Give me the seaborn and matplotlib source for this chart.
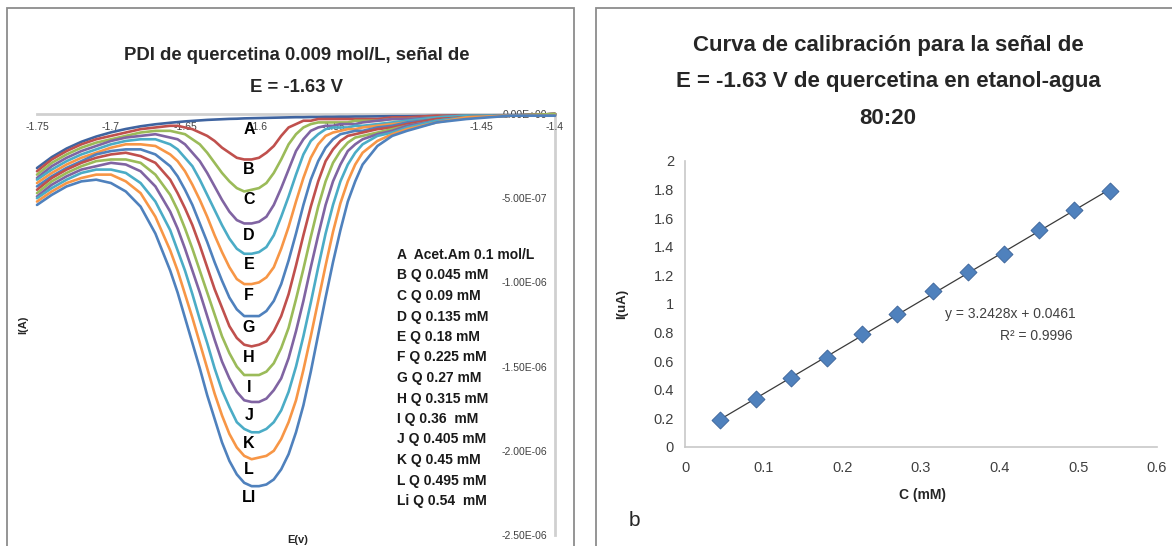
import numpy as np
import pandas as pd
import matplotlib
matplotlib.use("Agg")
import matplotlib.pyplot as plt
import seaborn as sns
from matplotlib.patches import Rectangle
from matplotlib.ticker import FuncFormatter, MultipleLocator

# ---------------- data (left panel: current in units of 1e-7 A) ----------------
E_V = [-1.75, -1.74, -1.73, -1.72, -1.71, -1.70, -1.69, -1.68, -1.67, -1.66,
       -1.655, -1.65, -1.645, -1.64, -1.635, -1.63, -1.625, -1.62, -1.615, -1.61,
       -1.605, -1.60, -1.595, -1.59, -1.585, -1.58, -1.575, -1.57, -1.565, -1.56,
       -1.555, -1.55, -1.545, -1.54, -1.535, -1.53, -1.52, -1.51, -1.50, -1.48,
       -1.46, -1.43, -1.40]

I_A = [-3.21, -2.56, -2.05, -1.65, -1.34, -1.09, -0.89, -0.73, -0.61, -0.52,
       -0.48, -0.44, -0.41, -0.38, -0.35, -0.33, -0.31, -0.29, -0.28, -0.26,
       -0.25, -0.24, -0.23, -0.22, -0.21, -0.20, -0.19, -0.19, -0.18, -0.18,
       -0.17, -0.17, -0.16, -0.16, -0.15, -0.15, -0.14, -0.13, -0.13, -0.11,
       -0.09, -0.07, -0.04]
I_B = [-3.4, -2.7, -2.2, -1.8, -1.5, -1.3, -1.1, -0.9, -0.8, -0.7,
       -0.7, -0.8, -0.9, -1.1, -1.3, -1.6, -2.0, -2.3, -2.6, -2.7,
       -2.7, -2.6, -2.3, -1.9, -1.3, -0.8, -0.6, -0.4, -0.4, -0.3,
       -0.3, -0.3, -0.3, -0.3, -0.3, -0.3, -0.3, -0.2, -0.2, -0.1,
       -0.1, -0.1, -0.0]
I_C = [-3.6, -2.9, -2.4, -2.0, -1.7, -1.5, -1.3, -1.1, -1.0, -1.0,
       -1.1, -1.2, -1.5, -1.8, -2.3, -2.9, -3.5, -4.0, -4.4, -4.6,
       -4.5, -4.4, -4.1, -3.5, -2.7, -1.8, -1.2, -0.8, -0.6, -0.5,
       -0.5, -0.5, -0.5, -0.5, -0.4, -0.4, -0.4, -0.3, -0.3, -0.2,
       -0.1, -0.1, -0.0]
I_D = [-3.8, -3.1, -2.6, -2.2, -1.9, -1.6, -1.4, -1.3, -1.2, -1.4,
       -1.5, -1.8, -2.3, -2.8, -3.5, -4.3, -5.1, -5.8, -6.3, -6.5,
       -6.5, -6.4, -6.1, -5.4, -4.4, -3.3, -2.2, -1.5, -1.0, -0.8,
       -0.7, -0.7, -0.6, -0.6, -0.6, -0.5, -0.4, -0.3, -0.3, -0.2,
       -0.1, -0.1, -0.0]
I_E = [-3.9, -3.3, -2.8, -2.4, -2.1, -1.8, -1.6, -1.5, -1.5, -1.8,
       -2.1, -2.6, -3.1, -3.9, -4.8, -5.7, -6.6, -7.4, -8.0, -8.3,
       -8.3, -8.2, -7.9, -7.2, -6.1, -4.9, -3.6, -2.4, -1.6, -1.2,
       -0.9, -0.8, -0.8, -0.8, -0.7, -0.7, -0.6, -0.5, -0.4, -0.2,
       -0.1, -0.1, -0.0]
I_F = [-4.1, -3.5, -3.0, -2.6, -2.3, -2.0, -1.8, -1.8, -1.9, -2.4,
       -2.8, -3.4, -4.2, -5.1, -6.1, -7.2, -8.2, -9.1, -9.8, -10.1,
       -10.1, -10.0, -9.7, -9.1, -8.0, -6.7, -5.2, -3.8, -2.6, -1.8,
       -1.3, -1.1, -1.0, -0.9, -0.9, -0.8, -0.7, -0.6, -0.5, -0.3,
       -0.2, -0.1, -0.0]
I_G = [-4.3, -3.7, -3.2, -2.8, -2.4, -2.2, -2.1, -2.1, -2.4, -3.1,
       -3.7, -4.5, -5.4, -6.5, -7.6, -8.8, -9.9, -10.9, -11.6, -12.0,
       -12.0, -12.0, -11.7, -11.1, -10.1, -8.7, -7.1, -5.4, -3.9, -2.8,
       -2.0, -1.5, -1.2, -1.1, -1.0, -1.0, -0.8, -0.7, -0.5, -0.3,
       -0.2, -0.1, -0.0]
I_H = [-4.5, -3.8, -3.3, -2.9, -2.6, -2.4, -2.3, -2.5, -2.9, -3.9,
       -4.7, -5.6, -6.6, -7.8, -9.1, -10.4, -11.5, -12.6, -13.3, -13.7,
       -13.8, -13.7, -13.5, -12.9, -12.0, -10.7, -9.0, -7.2, -5.5, -4.0,
       -2.8, -2.1, -1.6, -1.3, -1.2, -1.1, -0.9, -0.8, -0.6, -0.3,
       -0.2, -0.1, -0.0]
I_I = [-4.7, -4.0, -3.5, -3.1, -2.8, -2.7, -2.7, -2.9, -3.6, -4.8,
       -5.7, -6.8, -8.0, -9.3, -10.6, -11.9, -13.2, -14.2, -15.0, -15.5,
       -15.5, -15.5, -15.3, -14.8, -13.9, -12.7, -11.0, -9.2, -7.3, -5.5,
       -4.0, -2.9, -2.2, -1.7, -1.4, -1.3, -1.1, -0.9, -0.7, -0.4,
       -0.2, -0.1, -0.0]
I_J = [-4.9, -4.2, -3.7, -3.3, -3.1, -2.9, -3.0, -3.4, -4.3, -5.8,
       -6.8, -8.0, -9.3, -10.6, -12.0, -13.4, -14.7, -15.7, -16.5, -17.0,
       -17.1, -17.1, -16.9, -16.4, -15.7, -14.5, -12.9, -11.1, -9.1, -7.2,
       -5.4, -4.0, -3.0, -2.2, -1.8, -1.5, -1.2, -1.0, -0.7, -0.4,
       -0.2, -0.1, -0.1]
I_K = [-5.0, -4.4, -3.9, -3.5, -3.3, -3.3, -3.5, -4.1, -5.2, -6.9,
       -8.1, -9.3, -10.7, -12.2, -13.6, -15.1, -16.4, -17.4, -18.3, -18.7,
       -18.9, -18.9, -18.7, -18.3, -17.6, -16.5, -15.0, -13.2, -11.2, -9.1,
       -7.1, -5.4, -4.0, -3.0, -2.3, -1.8, -1.3, -1.1, -0.8, -0.4,
       -0.2, -0.1, -0.1]
I_L = [-5.2, -4.6, -4.1, -3.8, -3.6, -3.6, -4.0, -4.7, -6.1, -8.1,
       -9.3, -10.7, -12.1, -13.6, -15.1, -16.6, -17.9, -19.0, -19.8, -20.3,
       -20.5, -20.4, -20.3, -20.0, -19.3, -18.3, -17.0, -15.2, -13.2, -11.1,
       -9.0, -7.0, -5.3, -4.0, -3.0, -2.3, -1.6, -1.2, -0.9, -0.5,
       -0.2, -0.1, -0.1]
I_LI = [-5.4, -4.8, -4.3, -4.0, -3.9, -4.1, -4.6, -5.5, -7.1, -9.3,
        -10.6, -12.1, -13.6, -15.1, -16.7, -18.1, -19.5, -20.6, -21.4, -21.9,
        -22.1, -22.1, -22.0, -21.7, -21.1, -20.2, -18.9, -17.3, -15.3, -13.1,
        -10.9, -8.8, -6.9, -5.2, -4.0, -3.0, -1.9, -1.3, -1.0, -0.5,
        -0.3, -0.1, -0.1]

curve_names = ["A", "B", "C", "D", "E", "F", "G", "H", "I", "J", "K", "L", "LI"]
curve_values = [I_A, I_B, I_C, I_D, I_E, I_F, I_G, I_H, I_I, I_J, I_K, I_L, I_LI]
legend_lines = ["A  Acet.Am 0.1 mol/L", "B Q 0.045 mM", "C Q 0.09 mM", "D Q 0.135 mM",
                "E Q 0.18 mM", "F Q 0.225 mM", "G Q 0.27 mM", "H Q 0.315 mM",
                "I Q 0.36  mM", "J Q 0.405 mM", "K Q 0.45 mM", "L Q 0.495 mM",
                "Li Q 0.54  mM"]

# ---------------- data (right panel) ----------------
conc_mM = [0.045, 0.09, 0.135, 0.18, 0.225, 0.27, 0.315, 0.36, 0.405, 0.45, 0.495, 0.54]
current_uA = [0.19, 0.333, 0.486, 0.622, 0.791, 0.927, 1.092, 1.225, 1.35, 1.516, 1.655, 1.789]

# ---------------- style ----------------
sns.set_theme(style="white")
FONTS = ["Liberation Sans", "DejaVu Sans"]
plt.rcParams["font.family"] = FONTS

W, H = 1172, 546
fig = plt.figure(figsize=(W / 100, H / 100), dpi=100)


def box(x0, y0, x1, y1):
    return [x0 / W, 1 - y1 / H, (x1 - x0) / W, (y1 - y0) / H]


def fx(x):
    return x / W


def fy(y):
    return 1 - y / H


colors = ["#3F64A0", "#C0504D", "#9BBB59", "#8064A2", "#4BACC6", "#F79646",
          "#4F81BD", "#C0504D", "#9BBB59", "#8064A2", "#4BACC6", "#F79646", "#4F81BD"]

# ---------------- left panel ----------------
rows = []
for name, vals in zip(curve_names, curve_values):
    for e, v in zip(E_V, vals):
        rows.append({"E": e, "I": v * 1e-7, "curve": name})
dfL = pd.DataFrame(rows)

axL = fig.add_axes(box(37, 114, 555, 535))
for i, name in enumerate(curve_names):
    sns.lineplot(data=dfL[dfL["curve"] == name], x="E", y="I", ax=axL,
                 color=colors[i], lw=1.9, clip_on=False, sort=False,
                 zorder=2 + i * 0.01)
axL.set_xlim(-1.75, -1.4)
axL.set_ylim(-2.5e-6, 0)
axL.set_axisbelow(True)
for s in ["top", "right"]:
    axL.spines[s].set_visible(False)
axL.spines["bottom"].set_position(("data", 0))
axL.spines["left"].set_position(("data", -1.4))
for s in ["bottom", "left"]:
    axL.spines[s].set_color("#d0d0d0")
    axL.spines[s].set_linewidth(2)
    axL.spines[s].set_zorder(0.5)
axL.xaxis.set_major_locator(MultipleLocator(0.05))
axL.yaxis.set_major_locator(MultipleLocator(5e-7))
axL.xaxis.set_major_formatter(FuncFormatter(lambda v, p: f"{v:g}"))
axL.yaxis.set_major_formatter(
    FuncFormatter(lambda v, p: f"{(0.0 if abs(v) < 1e-12 else v):.2E}"))
axL.tick_params(axis="both", length=0, labelsize=7.5, labelcolor="#404040")
axL.tick_params(axis="x", pad=6)
axL.tick_params(axis="y", pad=6)
axL.set_xlabel("E(v)", fontsize=8, fontweight="bold")
axL.set_ylabel("I(A)", fontsize=8, fontweight="bold")
axL.xaxis.set_label_coords(0.504, 0.0)
axL.yaxis.set_label_coords(-0.017, 0.5)

lab_y = [130, 169, 200, 235, 264, 295, 327, 357, 387, 415, 443, 470, 498]
for n, py in zip(curve_names, lab_y):
    fig.text(fx(249), fy(py), n, ha="center", va="center", fontsize=11.5,
             fontweight="bold", color="black", zorder=5)

for j, t in enumerate(legend_lines):
    fig.text(fx(397), fy(255 + 20.5 * j), t, ha="left", va="center", fontsize=10,
             fontweight="bold", color="#1a1a1a")

fig.text(fx(297), fy(55), "PDI de quercetina 0.009 mol/L, señal de", ha="center",
         va="center", fontsize=13.3, fontweight="bold")
fig.text(fx(297), fy(88), "E = -1.63 V", ha="center", va="center", fontsize=13.3,
         fontweight="bold")

# ---------------- right panel ----------------
dfR = pd.DataFrame({"C": conc_mM, "I": current_uA})
axR = fig.add_axes(box(685, 161, 1157, 447))
sns.regplot(data=dfR, x="C", y="I", scatter=False, ci=None, truncate=True,
            line_kws=dict(color="#3a3a3a", lw=0.9), ax=axR)
sns.scatterplot(data=dfR, x="C", y="I", marker="D", s=75, color="#4F81BD",
                edgecolor="#3A6298", linewidth=0.6, ax=axR, zorder=3)
axR.set_xlim(0, 0.6)
axR.set_ylim(0, 2)
axR.xaxis.set_major_locator(MultipleLocator(0.1))
axR.yaxis.set_major_locator(MultipleLocator(0.2))
axR.xaxis.set_major_formatter(FuncFormatter(lambda v, p: f"{v:g}"))
axR.yaxis.set_major_formatter(FuncFormatter(lambda v, p: f"{v:g}"))
for s in ["top", "right"]:
    axR.spines[s].set_visible(False)
for s in ["bottom", "left"]:
    axR.spines[s].set_color("#c8c8c8")
    axR.spines[s].set_linewidth(1.2)
axR.tick_params(axis="both", length=0, labelsize=10.5, labelcolor="#404040")
axR.tick_params(axis="x", pad=10)
axR.tick_params(axis="y", pad=8)
axR.set_xlabel("C (mM)", fontsize=10, fontweight="bold")
axR.set_ylabel("I(uA)", fontsize=9.5, fontweight="bold")
axR.xaxis.set_label_coords(0.504, -0.145)
axR.yaxis.set_label_coords(-0.121, 0.5)

fig.text(fx(1010), fy(314), "y = 3.2428x + 0.0461", ha="center", va="center",
         fontsize=10, color="#404040")
fig.text(fx(1036), fy(336), "R² = 0.9996", ha="center", va="center",
         fontsize=10, color="#404040")
fig.text(fx(888), fy(45), "Curva de calibración para la señal de", ha="center",
         va="center", fontsize=16, fontweight="bold")
fig.text(fx(888), fy(82), "E = -1.63 V de quercetina en etanol-agua", ha="center",
         va="center", fontsize=16, fontweight="bold")
fig.text(fx(888), fy(118), "80:20", ha="center", va="center", fontsize=16,
         fontweight="bold")
fig.text(fx(634), fy(521), "b", ha="center", va="center", fontsize=15)

fig.add_artist(Rectangle((fx(7), fy(560)), fx(567), (560 - 8) / H,
                         transform=fig.transFigure, fill=False,
                         edgecolor="#8c8c8c", lw=1.3))
fig.add_artist(Rectangle((fx(596), fy(560)), fx(600), (560 - 8) / H,
                         transform=fig.transFigure, fill=False,
                         edgecolor="#8c8c8c", lw=1.3))

fig.savefig("out.png", dpi=100, facecolor="white")
